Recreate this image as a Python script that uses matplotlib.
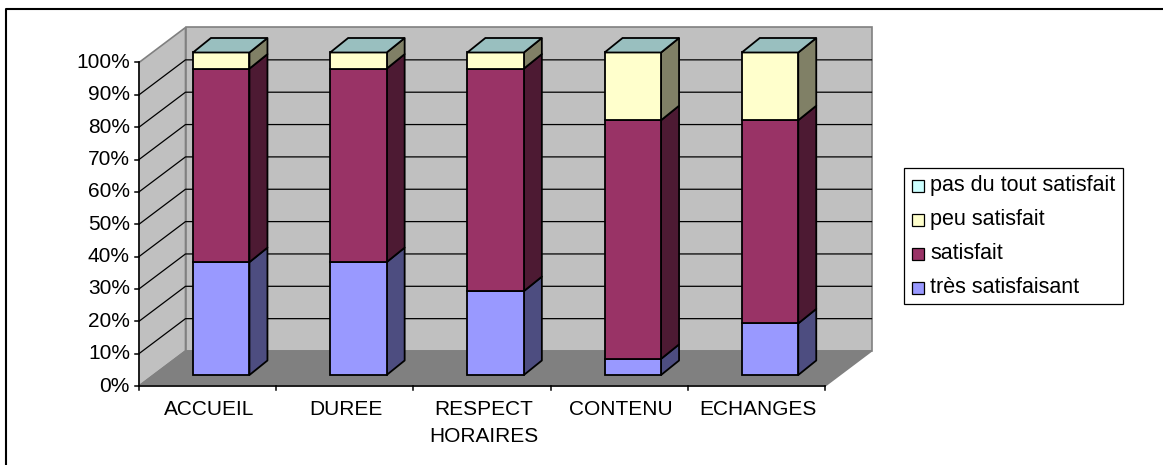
import matplotlib
matplotlib.use('Agg')
import matplotlib.pyplot as plt
from matplotlib.patches import Polygon, Rectangle

plt.rcParams['font.family'] = ['Liberation Sans', 'DejaVu Sans']

categories = ['ACCUEIL', 'DUREE', 'RESPECT\nHORAIRES', 'CONTENU', 'ECHANGES']
series_names = ['très satisfaisant', 'satisfait', 'peu satisfait', 'pas du tout satisfait']
tres_satisfaisant = [35, 35, 26, 5, 16]
satisfait = [60, 60, 69, 74, 63]
peu_satisfait = [5, 5, 5, 21, 21]
pas_du_tout = [0, 0, 0, 0, 0]
yticks = list(range(0, 101, 10))

front_colors = ['#9999FF', '#993366', '#FFFFCC', '#CCFFFF']
side_colors = ['#4D4D80', '#4D1A33', '#808066', '#668080']
top_color = '#99BFBF'

# plot box in pixels, y goes down like the image
X0, X1 = 139, 825
Y0, Y100 = 386, 62.5
DX, DY = 46.5, 35
BAR_OFF_X, BAR_OFF_Y = 13.6, 11
BAR_DX, BAR_DY = 18, 14.5
BAR_W = 56.5
BAR_SCALE = 322.5 / 323.5
FS = 15


def ypix(v):
    return Y0 - (Y0 - Y100) * v / 100


def ybar(v):
    return Y0 - BAR_OFF_Y - (Y0 - Y100) * BAR_SCALE * v / 100


fig = plt.figure(figsize=(11.63, 4.65), dpi=100)
ax = fig.add_axes([0, 0, 1, 1])
ax.set_xlim(0, 1163)
ax.set_ylim(465, 0)
ax.axis('off')

# outer frame
ax.plot([5.5, 5.5, 1163], [465, 9, 9], color='black', lw=1.5)

# walls and floor
ytop = ypix(100)
wall_edge = '#808080'
ax.add_patch(Polygon([(X0, Y0), (X0 + DX, Y0 - DY), (X0 + DX, ytop - DY), (X0, ytop)], fc='#C0C0C0', ec=wall_edge, lw=1.2))
ax.add_patch(Rectangle((X0 + DX, ytop - DY), X1 - X0, Y0 - ytop, fc='#C0C0C0', ec=wall_edge, lw=1.2))
ax.add_patch(Polygon([(X0, Y0), (X1, Y0), (X1 + DX, Y0 - DY), (X0 + DX, Y0 - DY)], fc='#808080', ec=wall_edge, lw=1.2))

# gridlines
for t in yticks[1:-1]:
    ax.plot([X0, X0 + DX, X1 + DX], [ypix(t), ypix(t) - DY, ypix(t) - DY], color='black', lw=0.9, zorder=2)

# axes and ticks
ax.plot([X0, X0], [Y0, ytop], color='black', lw=1.1, zorder=2)
ax.plot([X0, X1], [Y0, Y0], color='black', lw=1.1, zorder=2)
for t in yticks:
    ax.plot([X0 - 4, X0], [ypix(t), ypix(t)], color='black', lw=1.1, zorder=2)
    ax.text(X0 - 9, ypix(t), f'{t}%', ha='right', va='center', fontsize=FS, color='black')

cat_w = (X1 - X0) / len(categories)
for i, cat in enumerate(categories):
    ax.plot([X0 + cat_w * (i + 1)] * 2, [Y0, Y0 + 4], color='black', lw=1.1, zorder=2)
    ax.text(X0 + cat_w * (i + 0.5) + 1.5, Y0 + 14, cat, ha='center', va='top', fontsize=FS, color='black', linespacing=1.55)
ax.plot([X0, X0], [Y0, Y0 + 4], color='black', lw=1.1, zorder=2)

# stacked bars
stacks = [tres_satisfaisant, satisfait, peu_satisfait, pas_du_tout]
for i in range(len(categories)):
    left = X0 + cat_w * (i + 0.5) - BAR_W / 2 + BAR_OFF_X
    right = left + BAR_W
    base = 0
    for s, vals in enumerate(stacks):
        v = vals[i]
        if v == 0:
            continue
        yb = ybar(base)
        yt = ybar(base + v)
        ax.add_patch(Polygon([(right, yb), (right + BAR_DX, yb - BAR_DY), (right + BAR_DX, yt - BAR_DY), (right, yt)],
                             fc=side_colors[s], ec='black', lw=1.3, zorder=3, joinstyle='round'))
        ax.add_patch(Rectangle((left, yt), BAR_W, yb - yt, fc=front_colors[s], ec='black', lw=1.3, zorder=3))
        base += v
    yt = ybar(base)
    ax.add_patch(Polygon([(left, yt), (right, yt), (right + BAR_DX, yt - BAR_DY), (left + BAR_DX, yt - BAR_DY)],
                         fc=top_color, ec='black', lw=1.3, zorder=3))

# legend, drawn by hand to keep the excel look
ax.add_patch(Rectangle((904, 167.5), 219, 136.5, fc='white', ec='black', lw=0.9, zorder=4))
for k, name in enumerate(series_names[::-1]):
    yy = 185 + k * 34
    ax.add_patch(Rectangle((912, yy - 5.5), 12, 12, fc=front_colors[3 - k], ec='black', lw=0.9, zorder=5))
    ax.text(930.5, yy, name, ha='left', va='center', fontsize=15.5, color='black', zorder=5)

fig.savefig('out.png', dpi=100)
